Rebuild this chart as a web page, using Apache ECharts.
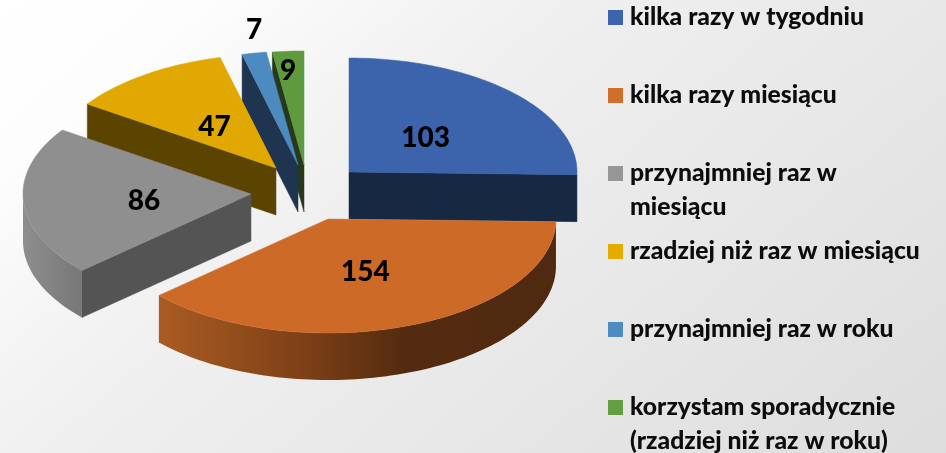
<!DOCTYPE html>
<html><head><meta charset="utf-8">
<style>html,body{margin:0;padding:0;background:#fff}#c{width:946px;height:453px}</style>
<script src="https://cdn.jsdelivr.net/npm/echarts@6/dist/echarts.min.js"></script>
</head><body><div id="c"></div>
<script>
// Data
const categories = ['kilka razy w tygodniu','kilka razy miesiącu','przynajmniej raz w miesiącu','rzadziej niż raz w miesiącu','przynajmniej raz w roku','korzystam sporadycznie (rzadziej niż raz w roku)'];
const values = [103,154,86,47,7,9];
// Legend wrapping
const legendText = ['kilka razy w tygodniu','kilka razy miesiącu','przynajmniej raz w\nmiesiącu','rzadziej niż raz w miesiącu','przynajmniej raz w roku','korzystam sporadycznie\n(rzadziej niż raz w roku)'];
// Styles
const topColors  = ['#3B64AD','#CE6A27','#8F8F8F','#E0A800','#4C8AC0','#5F9A3E'];
const keyColors  = ['#3D64AE','#D36E2A','#969696','#E4AC00','#4E8BC1','#639F3E'];
const wallColors = ['#172843','#4F2A10','#545454','#5B4400','#1F354F','#26391A'];
const rimStops   = [null,[['#AA5C22',0],['#7E4017',.36],['#532B10',.62],['#4F2A10',1]],[['#8E8E8E',0],['#777777',1]],null,null,null];
// Layout: ellipse radii, thickness, how far each slice is pulled from the pie's hub
const hub = {x:315,y:180}, rx = 228, ry = 114, depth = 47;
const pull = [[34,-8],[13,39],[-64,14],[-39,-12],[-17,-15],[-11,-15]];
const labelReach = [[.47,.47],[.47,.47],[.47,.47],[.47,.47],[1.0,1.23],[1.0,.85]];
const labelDrop = 3;
const drawOrder = [5,4,3,2,1,0];
const total = values.reduce((a,b)=>a+b,0);
const angles = []; values.reduce((s,v,i)=>{angles[i]=[s,s+v/total*360];return s+v/total*360;},0);
const rad = d=>d*Math.PI/180;
function pt(i,t,dy){return [hub.x+pull[i][0]+rx*Math.sin(rad(t)), hub.y+pull[i][1]-ry*Math.cos(rad(t))+(dy||0)];}
function arc(i,a,b,dy){const n=Math.max(2,Math.ceil((b-a)/1.5)),o=[];for(let k=0;k<=n;k++)o.push(pt(i,a+(b-a)*k/n,dy));return o;}
function poly(points,fill,z2){return {type:'polygon',shape:{points},style:{fill,stroke:fill,lineWidth:.5},z2:z2||0,silent:true};}
function render(i){
  const [a,b]=angles[i], apex=[hub.x+pull[i][0],hub.y+pull[i][1]], kids=[];
  const apexLow=[apex[0],apex[1]+depth];
  if(Math.sin(rad(a))<0){const p=pt(i,a),q=pt(i,a,depth);kids.push(poly([apex,p,q,apexLow],wallColors[i],1));}
  if(Math.sin(rad(b))>0){const p=pt(i,b),q=pt(i,b,depth);kids.push(poly([apex,p,q,apexLow],wallColors[i],1));}
  const ra=Math.max(a,90), rb=Math.min(b,270);
  if(rb>ra && rimStops[i]){
    const up=arc(i,ra,rb,0), lo=arc(i,ra,rb,depth).reverse();
    const xs=up.map(p=>p[0]), minX=Math.min(...xs), maxX=Math.max(...xs);
    const colorStops=rimStops[i].map(s=>({offset:s[1],color:s[0]}));
    kids.push({type:'polygon',shape:{points:up.concat(lo)},silent:true,z2:1,style:{stroke:null,fill:{type:'linear',x:minX,y:0,x2:maxX,y2:0,global:true,colorStops}}});
  }
  kids.push(poly([apex].concat(arc(i,a,b,0)),topColors[i],2));
  const mid=rad((a+b)/2);
  kids.push({type:'text',z2:5,silent:true,style:{text:String(values[i]),x:apex[0]+labelReach[i][0]*rx*Math.sin(mid),y:apex[1]-labelReach[i][1]*ry*Math.cos(mid)+labelDrop,align:'center',verticalAlign:'middle',font:'900 28px Lato',fill:'#000'}});
  return {type:'group',children:kids};
}
const legendTop = [10,88,166,244,322,400];
const legendLine = 34;
const legend = categories.map((name,i)=>{
  const two = legendText[i].includes('\n');
  return {data:[{name,icon:two?'path://M0 0H15V15H0Z M0 49H0.01V49Z':'rect',itemStyle:{color:keyColors[i],borderWidth:0}}],
    left:608,top:legendTop[i]-9.5,orient:'vertical',padding:0,itemWidth:15,itemHeight:two?49:15,itemGap:0,selectedMode:false,
    formatter:()=>legendText[i],
    textStyle:{fontFamily:'Lato',fontWeight:900,fontSize:24.7,color:'#0c0c0c',lineHeight:legendLine,padding:[0,0,0,2]}};
});
const chart = echarts.init(document.getElementById('c'),null,{renderer:'canvas'});
chart.setOption({
  animation:false,
  backgroundColor:{type:'linear',x:0,y:0,x2:625,y2:729,global:true,colorStops:[{offset:0,color:'#FFFFFF'},{offset:.136,color:'#FDFDFD'},{offset:.31,color:'#F3F3F3'},{offset:.4,color:'#EFEFEF'},{offset:.64,color:'#E8E8E8'},{offset:1,color:'#DEDDDE'}]},
  legend,
  series:drawOrder.map(i=>({type:'custom',name:categories[i],coordinateSystem:'none',data:[[values[i]]],itemStyle:{color:keyColors[i]},renderItem:()=>render(i),silent:true}))
});
</script></body></html>
